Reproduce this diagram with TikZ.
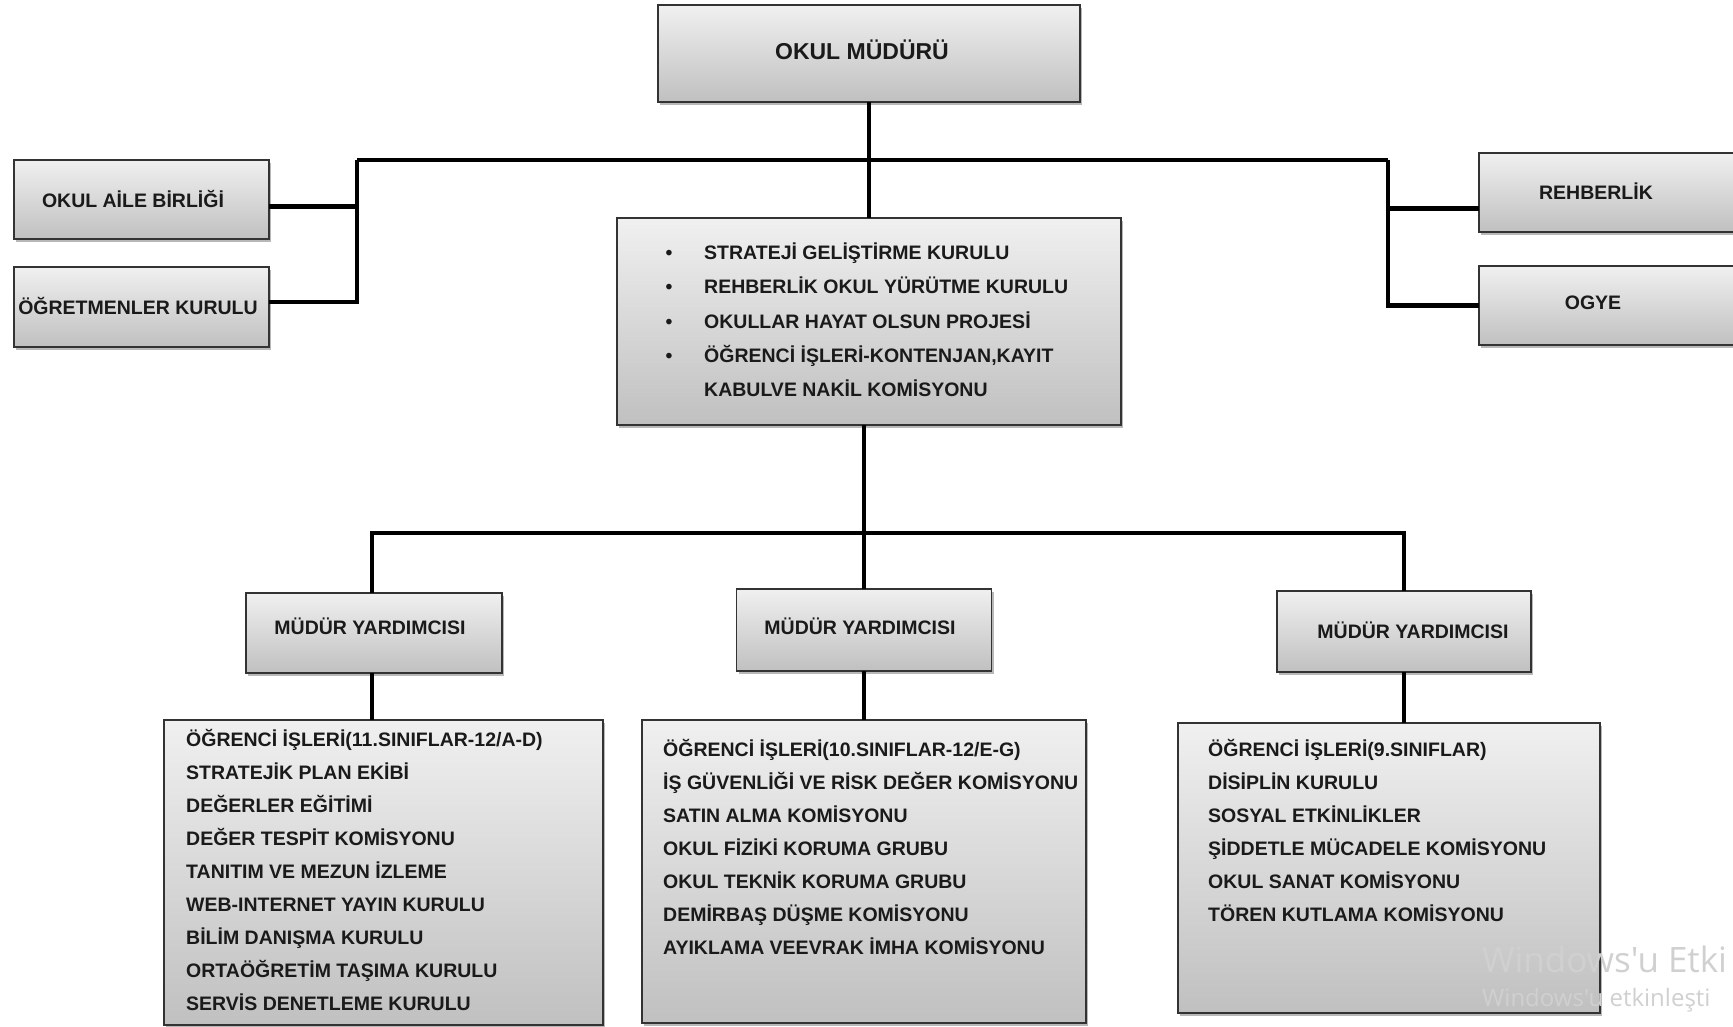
\documentclass[tikz,border=0pt]{standalone}
\usepackage{fontspec}
\setmainfont{Liberation Sans}
\newfontfamily\wmfont{Open Sans}
\usetikzlibrary{shadows}
\definecolor{gtop}{HTML}{F0F0F0}
\definecolor{gbot}{HTML}{C0C0C0}
\definecolor{bordc}{HTML}{333333}
\definecolor{txtc}{HTML}{1A1A1A}
\definecolor{wmc}{HTML}{D0D0D0}
\tikzset{
  box/.style={draw=bordc, line width=1.8pt, top color=gtop, bottom color=gbot,
    drop shadow={shadow xshift=2pt, shadow yshift=-3pt, opacity=0.28, fill=black},
    inner sep=0pt, outer sep=0pt},
  lbl/.style={font=\bfseries\fontsize{19.5}{23}\selectfont, text=txtc, inner sep=0pt, anchor=base},
  lt/.style={font=\bfseries\fontsize{19.5}{23}\selectfont, text=txtc, inner sep=0pt, anchor=base west},
  conn/.style={line width=3.8pt, draw=black},
  trunk/.style={line width=4.6pt, draw=black},
  wm/.style={anchor=base west, inner sep=0pt, text=wmc},
}
\begin{document}
\begin{tikzpicture}[x=1pt,y=-1pt]
\useasboundingbox (0,0) rectangle (1733,1027);

% boxes
\node[box, minimum width=422pt, minimum height=97pt] (mud) at (869,53.5) {};
\node[box, minimum width=255pt, minimum height=79pt] (aile) at (141.5,199.5) {};
\node[box, minimum width=255pt, minimum height=80pt] (ogr) at (141.5,307) {};
\node[box, minimum width=261pt, minimum height=79pt] (reh) at (1609.5,192.5) {};
\node[box, minimum width=261pt, minimum height=79pt] (ogye) at (1609.5,305.5) {};
\node[box, minimum width=504pt, minimum height=207pt] (mid) at (869,321.5) {};
\node[box, minimum width=256pt, minimum height=80pt] (my1) at (374,633) {};
\node[box, minimum width=255pt, minimum height=82pt] (my2) at (864,630) {};
\node[box, minimum width=254pt, minimum height=81pt] (my3) at (1404,631.5) {};
\node[box, minimum width=439pt, minimum height=305pt] (low1) at (383.5,872.5) {};
\node[box, minimum width=444pt, minimum height=303pt] (low2) at (864,871.5) {};
\node[box, minimum width=422pt, minimum height=290pt] (low3) at (1389,868) {};

% connectors
\coordinate (tl) at (357,160);
\coordinate (tr) at (1388,160);
\draw[conn] (mud.south) -- (mid.north);
\draw[trunk] (tl) -- (tr);
\draw[trunk] (tl) |- ([yshift=-7pt]aile.east);
\draw[trunk] (tl) |- ([yshift=5pt]ogr.east);
\draw[trunk] (tr) |- ([yshift=-16pt]reh.west);
\draw[trunk] (tr) |- (ogye.west);
\draw[conn] (my2.north) -- (my2.north |- mid.south);
\draw[conn] ([xshift=-2pt]my1.north) -- ++(0,-60) -| (my3.north);
\draw[conn] ([xshift=-2pt]my1.south) -- ([xshift=-2pt]my1.south |- low1.north);
\draw[conn] (my2.south) -- (my2.south |- low2.north);
\draw[conn] (my3.south) -- (my3.south |- low3.north);

% labels
\node[lbl, font=\bfseries\fontsize{23}{27}\selectfont] (tmud) at (862,60) {OKUL MÜDÜRÜ};
\node[lbl] (taile) at (133,208) {OKUL AİLE BİRLİĞİ};
\node[lbl] (togr) at (138,314) {ÖĞRETMENLER KURULU};
\node[lbl] (treh) at (1596,200) {REHBERLİK};
\node[lbl] (togye) at (1593,309) {OGYE};
\node[lbl] (tmy1) at (370,634) {MÜDÜR YARDIMCISI};
\node[lbl] (tmy2) at (860,634) {MÜDÜR YARDIMCISI};
\node[lbl] (tmy3) at (1413,638) {MÜDÜR YARDIMCISI};

% middle list
\foreach \t [count=\i from 0] in {{STRATEJİ GELİŞTİRME KURULU},{REHBERLİK OKUL YÜRÜTME KURULU},{OKULLAR HAYAT OLSUN PROJESİ},{ÖĞRENCİ İŞLERİ-KONTENJAN,KAYIT}}{
  \node[lbl] (bm\i) at (669,260+34*\i) {•};
  \node[lt] (tm\i) at (704,260+34*\i) {\t};
}
\node[lt] (tm4) at (704,396) {KABULVE NAKİL KOMİSYONU};

% lower lists
\foreach \t [count=\i from 0] in {{ÖĞRENCİ İŞLERİ(11.SINIFLAR-12/A-D)},{STRATEJİK PLAN EKİBİ},{DEĞERLER EĞİTİMİ},{DEĞER TESPİT KOMİSYONU},{TANITIM VE MEZUN İZLEME},{WEB-INTERNET YAYIN KURULU},{BİLİM DANIŞMA KURULU},{ORTAÖĞRETİM TAŞIMA KURULU},{SERVİS DENETLEME KURULU}}{
  \node[lt] (ta\i) at (186,746+33*\i) {\t};
}
\foreach \t [count=\i from 0] in {{ÖĞRENCİ İŞLERİ(10.SINIFLAR-12/E-G)},{İŞ GÜVENLİĞİ VE RİSK DEĞER KOMİSYONU},{SATIN ALMA KOMİSYONU},{OKUL FİZİKİ KORUMA GRUBU},{OKUL TEKNİK KORUMA GRUBU},{DEMİRBAŞ DÜŞME KOMİSYONU},{AYIKLAMA VEEVRAK İMHA KOMİSYONU}}{
  \node[lt] (tb\i) at (663,756+33*\i) {\t};
}
\foreach \t [count=\i from 0] in {{ÖĞRENCİ İŞLERİ(9.SINIFLAR)},{DİSİPLİN KURULU},{SOSYAL ETKİNLİKLER},{ŞİDDETLE MÜCADELE KOMİSYONU},{OKUL SANAT KOMİSYONU},{TÖREN KUTLAMA KOMİSYONU}}{
  \node[lt] (tc\i) at (1208,756+33*\i) {\t};
}

% watermark (visible part)
\node[wm, font=\wmfont\fontsize{35}{40}\selectfont] (wm1) at (1482,972) {Windows'u Etki};
\node[wm, font=\wmfont\fontsize{24}{28}\selectfont] (wm2) at (1482,1006) {Windows'u etkinleşti};
\end{tikzpicture}
\end{document}
